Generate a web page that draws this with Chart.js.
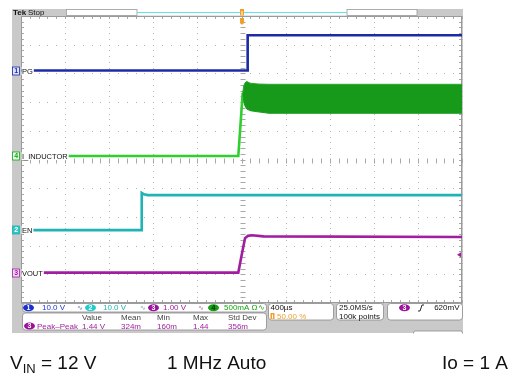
<!DOCTYPE html>
<html><head><meta charset="utf-8">
<script src="https://cdn.jsdelivr.net/npm/chart.js@4.4.1/dist/chart.umd.min.js"></script>
<style>html,body{margin:0;padding:0;background:#fff;overflow:hidden}canvas{display:block}</style>
</head><body><canvas id="c" width="519" height="375"></canvas>
<script>
// ---- data (time in microseconds, 400 us/div, trigger at 0) ----
const pgTime   = [-2000, 54, 56, 2000];
const pgVolts  = [0, 0, 12.3, 12.3];
const enTime   = [-2000, -907, -905, -885, -850, 2000];
const enVolts  = [0, 0, 13.0, 12.5, 12.2, 12.2];
const voutTime = [-2000, -29, 2, 32, 59, 95, 200, 2000];
const voutVolts= [0, 0, 0.62, 1.20, 1.28, 1.30, 1.26, 1.24];
const ilTime   = [-2000, -29, 11];
const ilAmps   = [0, 0, 1.10];
const ilBandTime  = [11, 20, 30, 47, 80, 150, 250, 2000];
const ilBandUpper = [1.10, 1.22, 1.27, 1.30, 1.27, 1.255, 1.25, 1.25];
const ilBandLower = [1.10, 0.95, 0.88, 0.82, 0.79, 0.77, 0.745, 0.745];
const triggerLevel = 0.62;
const measHeaders = ["Value", "Mean", "Min", "Max", "Std Dev"];
const measValues  = ["1.44 V", "324m", "160m", "1.44", "356m"];
const channelScales = ["10.0 V", "10.0 V", "1.00 V", "500mA Ω∿"];

// ---- per-channel scale (units/div) and ground position (div from centre) ----
function axisFor(perDiv, pos){ return {type:'linear', display:false, min:(-5-pos)*perDiv, max:(5-pos)*perDiv}; }
const pts = (xs, ys) => xs.map((x,i)=>({x, y:ys[i]}));

const BLUE='#1c2aa6', CYAN='#1fb3b3', MAG='#a11ea1', GREEN='#2fcf2f', DGREEN='#17991a';
const F='"Liberation Sans", Arial, sans-serif';

function oval(ctx,x,y,w,h,fill){ctx.beginPath();ctx.ellipse(x+w/2,y+h/2,w/2,h/2,0,0,Math.PI*2);ctx.fillStyle=fill;ctx.fill();}
function rbox(ctx,x,y,w,h,r){ctx.beginPath();ctx.moveTo(x+r,y);ctx.lineTo(x+w-r,y);ctx.quadraticCurveTo(x+w,y,x+w,y+r);ctx.lineTo(x+w,y+h-r);ctx.quadraticCurveTo(x+w,y+h,x+w-r,y+h);ctx.lineTo(x+r,y+h);ctx.quadraticCurveTo(x,y+h,x,y+h-r);ctx.lineTo(x,y+r);ctx.quadraticCurveTo(x,y,x+r,y);ctx.closePath();ctx.fillStyle='#fff';ctx.fill();ctx.strokeStyle='#8a8a8a';ctx.lineWidth=0.8;ctx.stroke();}

const scopePlugin = {
  id:'scope',
  beforeDraw(chart){
    const ctx=chart.ctx, a=chart.chartArea, xs=chart.scales.x, ys=chart.scales.ydiv;
    ctx.save();
    // frame
    ctx.fillStyle='#c9c9c9'; ctx.fillRect(12,9,451,324);
    ctx.fillStyle='#fff'; ctx.fillRect(a.left,a.top,a.right-a.left,a.bottom-a.top);
    // top bar
    ctx.fillStyle='#fff'; ctx.fillRect(66,9,351,6.5);
    ctx.strokeStyle='#9a9a9a'; ctx.lineWidth=0.8;
    ctx.strokeRect(66.5,9.5,70.5,6); ctx.strokeRect(347,9.5,70,6);
    ctx.strokeStyle='#58e8e8'; ctx.lineWidth=1; ctx.beginPath(); ctx.moveTo(137,12.5); ctx.lineTo(347,12.5); ctx.stroke();
    ctx.fillStyle='#111'; ctx.font='bold 8px '+F; ctx.textBaseline='middle'; ctx.fillText('Tek',13,13);
    ctx.font='8px '+F; ctx.fillText('Stop',28,13);
    // grid
    ctx.fillStyle='#b4b4b4';
    for(let i=0;i<=10;i++){
      const px=Math.round(xs.getPixelForValue(-2000+400*i));
      for(let j=0;j<=50;j++){const py=Math.round(ys.getPixelForValue(-5+j*0.2)); ctx.fillRect(px,py,1,1);}
    }
    for(let i=0;i<=10;i++){
      const py=Math.round(ys.getPixelForValue(-5+i));
      for(let j=0;j<=50;j++){const px=Math.round(xs.getPixelForValue(-2000+j*80)); ctx.fillRect(px,py,1,1);}
    }
    // centre cross ticks and border ticks
    ctx.strokeStyle='#a8a8a8'; ctx.lineWidth=1; ctx.beginPath();
    const cx=Math.round(xs.getPixelForValue(0))+0.5, cy=Math.round(ys.getPixelForValue(0))+0.5;
    for(let j=0;j<=50;j++){
      const py=Math.round(ys.getPixelForValue(-5+j*0.2))+0.5;
      ctx.moveTo(cx-2,py); ctx.lineTo(cx+3,py);
      ctx.moveTo(a.left,py); ctx.lineTo(a.left+3,py);
      ctx.moveTo(a.right-3,py); ctx.lineTo(a.right,py);
      const px=Math.round(xs.getPixelForValue(-2000+j*80))+0.5;
      ctx.moveTo(px,cy-2); ctx.lineTo(px,cy+3);
      ctx.moveTo(px,a.top); ctx.lineTo(px,a.top+3);
      ctx.moveTo(px,a.bottom-3); ctx.lineTo(px,a.bottom);
    }
    ctx.stroke();
    ctx.strokeStyle='#9a9a9a'; ctx.strokeRect(a.left+0.5,a.top+0.5,a.right-a.left-1,a.bottom-a.top-1);
    ctx.restore();
  },
  afterDatasetsDraw(chart){
    const ctx=chart.ctx, a=chart.chartArea, s=chart.scales, xs=s.x;
    ctx.save();
    ctx.textBaseline='middle';
    const labels=[
      {ax:'yPG', n:'1', t:'PG', col:BLUE, fill:'#dde4ff'},
      {ax:'yIL', n:'4', t:'I_INDUCTOR', col:'#13a313', fill:'#e6ffe6'},
      {ax:'yEN', n:'2', t:'EN', col:CYAN, fill:'#2cc4c4'},
      {ax:'yVOUT', n:'3', t:'VOUT', col:MAG, fill:'#f3d6f3'}
    ];
    labels.forEach(l=>{
      const y=Math.round(s[l.ax].getPixelForValue(0));
      ctx.font='7.5px '+F;
      const w=ctx.measureText(l.t).width;
      ctx.fillStyle='#fff'; ctx.fillRect(a.left+0.5,y-4,w+1.5,8);
      ctx.fillStyle='#111'; ctx.fillText(l.t,a.left+1,y+0.5);
      ctx.fillStyle=l.fill; ctx.fillRect(12.5,y-4,7,8);
      ctx.strokeStyle=l.col; ctx.lineWidth=0.8; ctx.strokeRect(12.5,y-4,7,8);
      ctx.fillStyle=(l.n==='2')?'#fff':l.col; ctx.font='bold 7px '+F; ctx.fillText(l.n,14.3,y+0.5);
    });
    // trigger position markers
    const tx=Math.round(xs.getPixelForValue(0));
    ctx.fillStyle='#f0a028';
    ctx.fillRect(tx-2,9,4,6.5);
    ctx.beginPath(); ctx.moveTo(tx-2,18); ctx.lineTo(tx+2,18); ctx.lineTo(tx+2,23); ctx.quadraticCurveTo(tx,26,tx-2,23); ctx.closePath(); ctx.fill();
    ctx.fillStyle='#fff'; ctx.fillRect(tx-0.5,11,1,4);
    // trigger level marker
    const ty=s.yVOUT.getPixelForValue(triggerLevel);
    ctx.fillStyle=MAG; ctx.beginPath(); ctx.moveTo(a.right-5,ty); ctx.lineTo(a.right-1,ty-2.5); ctx.lineTo(a.right-1,ty+2.5); ctx.closePath(); ctx.fill();
    ctx.restore();
  },
  afterDraw(chart){
    const ctx=chart.ctx;
    ctx.save(); ctx.textBaseline='middle';
    // row 1
    rbox(ctx,22.5,303.5,244,8.5,3);
    const chx=[23,85,148,208], txx=[42,103,163,224], cols=['#2036d8',CYAN,MAG,'#14a814'], ovc=['#1b2fd0','#22cccc','#9c129c','#13a013'];
    for(let i=0;i<4;i++){
      oval(ctx,chx[i],304.3,11,7,ovc[i]);
      ctx.fillStyle=(i===3)?'#0a300a':'#fff'; ctx.font='bold 7px '+F; ctx.fillText(String(i+1),chx[i]+3.6,308);
      ctx.fillStyle=cols[i]; ctx.font='8px '+F; ctx.fillText(channelScales[i],txx[i],308);
    }
    ctx.font='7px "DejaVu Sans"'; ctx.fillStyle='#6a72b8'; ctx.fillText('∿',77,308);
    ctx.fillStyle='#7aa'; ctx.fillText('∿',140,308); ctx.fillStyle='#a06aa0'; ctx.fillText('∿',198,308);
    // row 2
    rbox(ctx,22.5,313,244,17,3);
    oval(ctx,24,322.5,11,7,'#9c129c'); ctx.fillStyle='#fff'; ctx.font='bold 7px '+F; ctx.fillText('3',27.6,326.2);
    ctx.font='8px '+F; ctx.fillStyle=MAG; ctx.fillText('Peak–Peak',37,326.3);
    const hx=[82,121,157,193,228];
    for(let i=0;i<5;i++){ctx.fillStyle='#444'; ctx.fillText(measHeaders[i],hx[i],317.8); ctx.fillStyle=MAG; ctx.fillText(measValues[i],hx[i],326.3);}
    // time box
    rbox(ctx,268.5,303.5,65,16.5,3);
    ctx.fillStyle='#111'; ctx.fillText('400µs',270.5,307.8);
    ctx.fillStyle='#f0a028'; ctx.fillRect(270.5,313,4,6); ctx.fillStyle='#fff'; ctx.fillRect(272,314.5,1,4);
    ctx.fillStyle='#f0a028'; ctx.fillText('50.00 %',277,316.3);
    rbox(ctx,336.5,303.5,47,16.5,3);
    ctx.fillStyle='#111'; ctx.fillText('25.0MS/s',339,307.8); ctx.fillText('100k points',339,316.3);
    rbox(ctx,387.5,303.5,75,16.5,3);
    oval(ctx,399,304.3,11,7,'#9c129c'); ctx.fillStyle='#fff'; ctx.font='bold 7px '+F; ctx.fillText('3',402.6,308);
    ctx.strokeStyle='#111'; ctx.lineWidth=0.9; ctx.beginPath(); ctx.moveTo(418,311); ctx.lineTo(420,311); ctx.lineTo(422,305); ctx.lineTo(424,305); ctx.stroke();
    ctx.fillStyle='#111'; ctx.font='8px '+F; ctx.textAlign='right'; ctx.fillText('620mV',459.5,307.8); ctx.textAlign='left';
    rbox(ctx,413.5,331,49,6,2);
    ctx.fillStyle='#fff'; ctx.fillRect(410,333.5,60,6);
    // caption
    ctx.fillStyle='#111'; ctx.textBaseline='alphabetic';
    ctx.font='19px '+F; ctx.fillText('V',10,369);
    let w=ctx.measureText('V').width; ctx.font='13px '+F; ctx.fillText('IN',10+w,373);
    let w2=ctx.measureText('IN').width; ctx.font='19px '+F; ctx.fillText(' = 12 V',10+w+w2,369);
    ctx.fillText('1 MHz Auto',167,369);
    ctx.textAlign='right'; ctx.fillText('Io = 1 A',508,369);
    ctx.restore();
  }
};

new Chart(document.getElementById('c'), {
  type:'line',
  data:{datasets:[
    {label:'IL upper', data:pts(ilBandTime, ilBandUpper), yAxisID:'yIL', borderColor:'#24ad24', borderWidth:1, backgroundColor:DGREEN, fill:'+1', pointRadius:0, tension:0},
    {label:'IL lower', data:pts(ilBandTime, ilBandLower), yAxisID:'yIL', borderColor:'#1f9f1f', borderWidth:1, pointRadius:0, fill:false, tension:0},
    {label:'I_INDUCTOR', data:pts(ilTime, ilAmps), yAxisID:'yIL', borderColor:GREEN, borderWidth:2.6, pointRadius:0, fill:false, tension:0},
    {label:'PG', data:pts(pgTime, pgVolts), yAxisID:'yPG', borderColor:BLUE, borderWidth:2.6, pointRadius:0, fill:false, tension:0},
    {label:'EN', data:pts(enTime, enVolts), yAxisID:'yEN', borderColor:CYAN, borderWidth:2.6, pointRadius:0, fill:false, tension:0},
    {label:'VOUT', data:pts(voutTime, voutVolts), yAxisID:'yVOUT', borderColor:MAG, borderWidth:2.6, pointRadius:0, fill:false, tension:0}
  ]},
  options:{
    responsive:false, animation:false, devicePixelRatio:1,
    layout:{padding:{left:21, top:16, right:57, bottom:72}},
    plugins:{legend:{display:false}, tooltip:{enabled:false}},
    scales:{
      x:{type:'linear', display:false, min:-2000, max:2000},
      ydiv:{type:'linear', display:false, min:-5, max:5},
      yPG: axisFor(10, 3.10),
      yEN: axisFor(10, -2.46),
      yVOUT: axisFor(1, -3.94),
      yIL: axisFor(0.5, 0.12)
    }
  },
  plugins:[scopePlugin]
});
</script></body></html>
